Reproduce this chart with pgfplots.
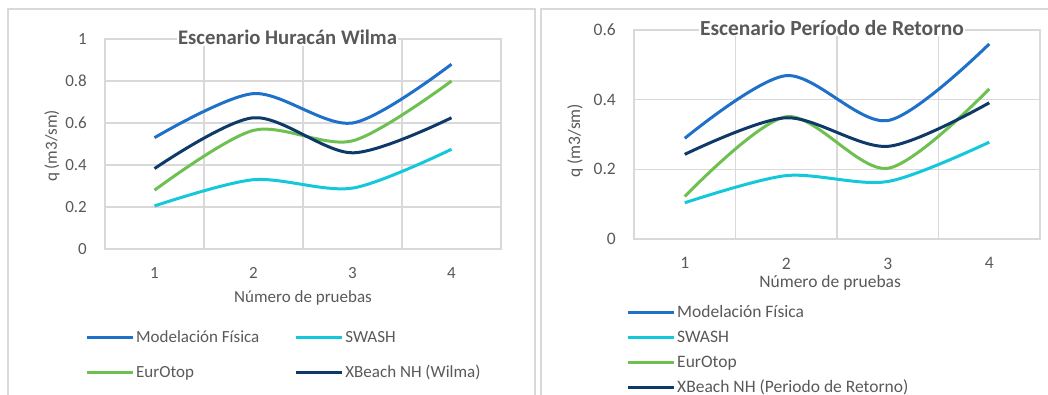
\documentclass[border=0pt]{standalone}
\usepackage{fontspec}
\setmainfont{Carlito}
\usepackage{pgfplots}
\pgfplotsset{compat=1.18}

\definecolor{cModel}{RGB}{30,112,200}
\definecolor{cSwash}{RGB}{20,200,220}
\definecolor{cEur}{RGB}{110,192,80}
\definecolor{cXB}{RGB}{14,58,105}
\definecolor{cGrid}{RGB}{217,217,217}
\definecolor{cText}{RGB}{89,89,89}

\tikzset{ttl/.style={text=cText, fill=white, inner sep=1pt, anchor=base}}

\pgfplotsset{
 mystyle/.style={
  scale only axis,
  xmin=0.5, xmax=4.5,
  xtick={1,2,3,4},
  minor xtick={0.5,1.5,2.5,3.5,4.5},
  xminorgrids=true, xmajorgrids=false,
  ymajorgrids=true,
  grid style={cGrid, line width=1.5pt},
  minor grid style={cGrid, line width=1.5pt},
  axis line style={cGrid, line width=1.5pt},
  major tick length=0pt, minor tick length=0pt,
  tick style={draw=none},
  ticklabel style={font=\fontsize{17}{20}\selectfont, text=cText, inner sep=0pt},
  xticklabel style={anchor=north, yshift=-18.5pt},
  yticklabel style={anchor=east, xshift=-18pt},
  /pgf/number format/assume math mode=true,
  label style={font=\fontsize{17}{20}\selectfont, text=cText},
  every axis plot/.append style={smooth, line width=3pt, no markers},
  legend image code/.code={\draw[#1, line width=3pt] (0pt,0pt) -- (46pt,0pt);},
  legend style={draw=none, fill=none, inner sep=0pt, anchor=north west,
     font=\fontsize{17}{20}\selectfont, text=cText,
     nodes={inner sep=2pt, text height=13pt, text depth=4pt}},
  legend cell align=left,
  clip=false,
 },
}

\begin{document}
\begin{tikzpicture}
% chart frames
\draw[cGrid, line width=2pt] (8pt,-5pt) -- (8pt,384.5pt) -- (534.5pt,384.5pt) -- (534.5pt,-5pt);
\draw[cGrid, line width=2pt] (541pt,-5pt) -- (541pt,384.5pt) -- (1060pt,384.5pt);

\begin{axis}[mystyle,
  at={(105pt,145pt)}, anchor=south west,
  width=396pt, height=210pt,
  ymin=0, ymax=1, ytick={0,0.2,0.4,0.6,0.8,1},
  xlabel={Número de pruebas},
  xlabel style={at={(axis description cs:0.5,-0.233)}, anchor=center},
  ylabel={q (m3/sm)},
  ylabel style={at={(axis description cs:-0.134,0.49)}, anchor=center},
  legend columns=2,
  legend style={at={(-0.0505,-0.371)}, row sep=14pt,
     /tikz/every even column/.append style={column sep=33pt}},
]
\addplot[cModel] coordinates {(1,0.53) (2,0.74) (3,0.60) (4,0.88)};
\addlegendentry{Modelación Física}
\addplot[cSwash] coordinates {(1,0.205) (2,0.33) (3,0.29) (4,0.475)};
\addlegendentry{SWASH}
\addplot[cEur] coordinates {(1,0.28) (2,0.565) (3,0.515) (4,0.80)};
\addlegendentry{EurOtop}
\addplot[cXB] coordinates {(1,0.383) (2,0.625) (3,0.458) (4,0.625)};
\addlegendentry{XBeach NH (Wilma)}
\node[ttl, font=\fontsize{20.7}{24}\selectfont\bfseries, yshift=-5.5pt] at (rel axis cs:0.461,1) {Escenario Huracán Wilma};
\end{axis}

\begin{axis}[mystyle,
  at={(634pt,155pt)}, anchor=south west,
  width=406pt, height=209pt,
  ymin=0, ymax=0.6, ytick={0,0.2,0.4,0.6},
  ticklabel style={font=\fontsize{17.5}{20}\selectfont},
  label style={font=\fontsize{17.5}{20}\selectfont},
  xlabel={Número de pruebas},
  xlabel style={at={(axis description cs:0.483,-0.2105)}, anchor=center},
  ylabel={q (m3/sm)},
  ylabel style={at={(axis description cs:-0.145,0.47)}, anchor=center},
  legend style={at={(-0.0197,-0.301)}, row sep=4pt, font=\fontsize{17.5}{20}\selectfont},
]
\addplot[cModel] coordinates {(1,0.289) (2,0.469) (3,0.340) (4,0.560)};
\addlegendentry{Modelación Física}
\addplot[cSwash] coordinates {(1,0.104) (2,0.182) (3,0.165) (4,0.278)};
\addlegendentry{SWASH}
\addplot[cEur] coordinates {(1,0.122) (2,0.351) (3,0.203) (4,0.431)};
\addlegendentry{EurOtop}
\addplot[cXB] coordinates {(1,0.243) (2,0.348) (3,0.266) (4,0.391)};
\addlegendentry{XBeach NH (Periodo de Retorno)}
\node[ttl, font=\fontsize{21.5}{24}\selectfont\bfseries, yshift=-5pt] at (rel axis cs:0.4877,1) {Escenario Período de Retorno};
\end{axis}

\pgfresetboundingbox
\useasboundingbox (0pt,0pt) rectangle (1048pt,394pt);
\end{tikzpicture}
\end{document}
